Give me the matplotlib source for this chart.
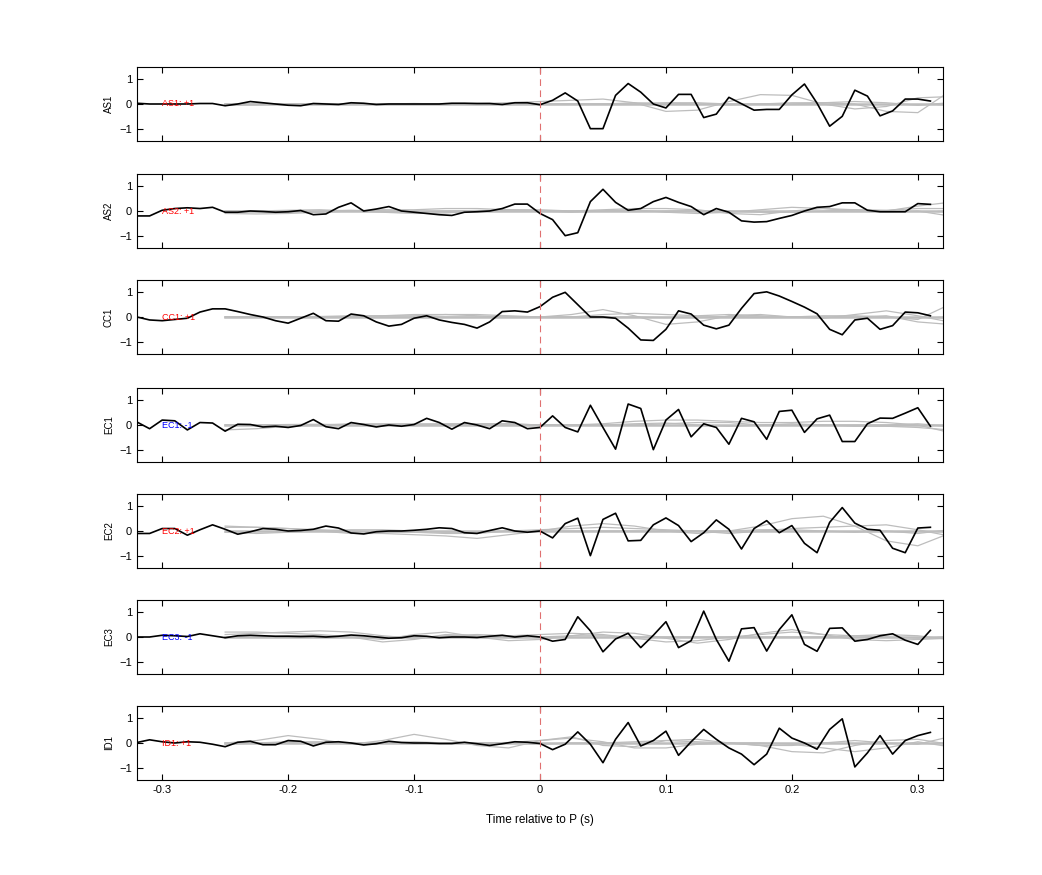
import numpy as np
import matplotlib
matplotlib.use("Agg")
import matplotlib.pyplot as plt

plt.rcParams['font.family'] = ['Liberation Sans', 'DejaVu Sans']

t = np.round(np.arange(-0.32, 0.315, 0.01), 2)
tg = np.round(np.arange(-0.25, 0.33, 0.025), 3)

stations = ["AS1", "AS2", "CC1", "EC1", "EC2", "EC3", "ID1"]
polarity = ["+1", "+1", "+1", "-1", "+1", "-1", "+1"]

AS1 = [0.03,0.0,0.0,0.0,0.0,0.02,0.02,-0.07,0.0,0.1,0.05,0.0,-0.05,-0.07,0.02,0.0,-0.02,0.05,0.03,-0.02,0.0,0.0,0.0,0.0,0.0,0.03,0.03,0.02,0.02,-0.02,0.05,0.05,
       -0.03,0.15,0.45,0.12,-1.0,-1.0,0.35,0.83,0.48,0.0,-0.16,0.39,0.39,-0.55,-0.41,0.27,0.01,-0.25,-0.22,-0.22,0.37,0.81,0.03,-0.9,-0.5,0.56,0.32,-0.48,-0.28,0.2,0.2,0.12]
AS2 = [-0.2,-0.2,0.03,0.1,0.13,0.1,0.15,-0.05,-0.05,0.0,-0.02,-0.05,-0.03,0.02,-0.15,-0.12,0.15,0.33,0.0,0.08,0.18,0.0,-0.05,-0.1,-0.15,-0.18,-0.05,-0.03,0.0,0.1,0.28,0.28,
       -0.1,-0.35,-1.0,-0.88,0.38,0.88,0.35,0.03,0.1,0.38,0.55,0.35,0.18,-0.15,0.1,-0.05,-0.4,-0.45,-0.43,-0.3,-0.18,0.0,0.15,0.18,0.33,0.33,0.03,-0.03,-0.03,-0.03,0.3,0.27]
CC1 = [0.0,-0.12,-0.15,-0.1,-0.05,0.2,0.33,0.33,0.22,0.1,0.0,-0.15,-0.25,-0.05,0.15,-0.15,-0.17,0.12,0.05,-0.2,-0.37,-0.3,-0.05,0.05,-0.12,-0.22,-0.3,-0.45,-0.2,0.22,0.25,0.2,
       0.42,0.8,1.0,0.5,0.0,0.0,-0.05,-0.45,-0.93,-0.95,-0.5,0.25,0.12,-0.33,-0.48,-0.33,0.35,0.95,1.02,0.85,0.63,0.4,0.13,-0.5,-0.72,-0.12,-0.05,-0.5,-0.35,0.2,0.17,0.05]
EC1 = [0.12,-0.15,0.2,0.17,-0.2,0.1,0.08,-0.25,0.03,0.02,-0.08,-0.05,-0.1,-0.02,0.22,-0.07,-0.15,0.1,0.02,-0.08,0.0,-0.05,0.02,0.27,0.1,-0.17,0.1,0.0,-0.15,0.17,0.1,-0.15,
       -0.1,0.37,-0.1,-0.28,0.8,-0.1,-0.98,0.85,0.67,-1.0,0.2,0.63,-0.48,0.05,-0.1,-0.78,0.27,0.13,-0.58,0.55,0.6,-0.3,0.25,0.4,-0.67,-0.67,0.05,0.28,0.27,0.48,0.7,-0.05]
EC2 = [-0.1,-0.1,0.1,0.1,-0.17,0.05,0.25,0.07,-0.13,-0.03,0.1,0.07,0.0,0.02,0.07,0.2,0.12,-0.08,-0.12,-0.03,0.0,0.0,0.03,0.07,0.13,0.1,-0.07,-0.1,0.02,0.13,0.0,-0.05,
       0.0,-0.28,0.3,0.52,-1.0,0.47,0.72,-0.4,-0.38,0.25,0.53,0.22,-0.43,-0.07,0.45,0.07,-0.73,0.1,0.42,-0.07,0.22,-0.5,-0.88,0.35,0.95,0.32,0.07,0.03,-0.7,-0.88,0.12,0.15]
EC3 = [0.0,0.0,0.07,0.05,0.02,0.13,0.05,-0.03,0.05,0.07,0.05,0.03,0.03,0.02,0.03,0.0,0.03,0.08,0.05,0.0,-0.05,-0.03,0.05,0.03,-0.03,0.0,0.0,-0.02,0.03,0.07,0.0,0.05,
       0.0,-0.17,-0.1,0.82,0.25,-0.6,-0.08,0.15,-0.43,0.07,0.62,-0.43,-0.15,1.05,-0.1,-0.98,0.33,0.38,-0.57,0.3,0.9,-0.3,-0.58,0.35,0.37,-0.17,-0.1,0.05,0.13,-0.13,-0.3,0.27]
ID1 = [0.02,0.13,0.05,0.0,0.05,0.03,-0.05,-0.15,0.03,0.07,-0.07,-0.07,0.1,0.07,-0.12,0.03,0.05,0.0,-0.08,-0.03,0.07,0.02,0.0,0.0,-0.02,-0.02,0.03,-0.03,-0.1,-0.03,0.05,0.03,
       -0.02,-0.27,-0.05,0.45,-0.05,-0.8,0.15,0.83,-0.12,0.1,0.48,-0.5,0.05,0.55,0.15,-0.2,-0.45,-0.88,-0.45,0.6,0.2,0.0,-0.25,0.55,0.98,-0.97,-0.4,0.3,-0.45,0.1,0.3,0.43]
black = [AS1, AS2, CC1, EC1, EC2, EC3, ID1]

# gray comparison traces (sampled every 0.025 s from -0.25)
G = {
 "AS1": [[0,0,0,0,0,0,0,0,0.02,0.05,0.1,0.15,0.2,0.05,-0.3,-0.25,0.1,0.38,0.35,0.0,-0.2,-0.1,0.25,0.3],
         [0,-0.02,0,0.02,0,-0.02,0,0.02,0,0,0,0,0,0.05,0.03,0,-0.03,0,0.05,0.05,0,-0.3,-0.35,0.5],
         [-0.05,-0.03,0,0.02,0,0,0.02,0,-0.03,-0.02,0,0,0,0,0.05,0.05,0,0,0,0.05,0.1,0.05,-0.05,0.05]],
 "AS2": [[0,0,0.03,0.05,0,-0.05,-0.1,-0.08,0,0.05,0.05,0,0.05,0.1,0.1,0.05,-0.1,-0.15,0,0.1,0.05,0,0.2,0.35],
         [-0.1,-0.12,-0.1,-0.05,0,0.05,0.05,0.1,0.1,0.05,0,-0.05,0,0.05,-0.05,-0.1,-0.05,0.05,0.15,0.1,0,-0.05,0,-0.2],
         [0,-0.03,-0.05,0,0.03,0,-0.02,0,0.02,0.03,0,0,0,-0.02,0,0.02,0,-0.05,-0.05,0,0.05,0.03,0.1,0.1]],
 "CC1": [[0,0,0,0.02,0.05,0.05,0.1,0.1,0.05,0,0,0.1,0.3,0.05,-0.3,-0.2,0.05,0.1,0,-0.05,0.1,0.25,0.05,-0.2],
         [0,0,0,0,0.02,0.05,0.05,0.1,0.1,0.05,0,0,0.1,0.15,0.1,0.05,0.1,0.05,0,0.05,0.05,0,-0.1,0.5],
         [0,0,0,0,0,0,0,0,0,0,0,0,0,0,-0.02,0,0.02,0,0,0,0,0.05,-0.2,-0.3]],
 "EC1": [[-0.2,-0.15,-0.05,0,0.05,0.05,0.05,0.05,0.05,0.05,0,0,0.05,0.15,0.2,0.2,0.15,0.1,0.1,0.15,0.15,0.1,0,-0.3],
         [0,0,0,0,0,0,0,0,0,0,0,0,0,0,0.05,0.1,0.1,0,0,0,-0.05,-0.05,-0.1,-0.2],
         [0,0,0.02,0.03,0,0,0,0.03,0.05,0.05,0,-0.02,0,0.05,0.08,0,-0.05,0,0.05,0,0,0,0.05,-0.05]],
 "EC2": [[0.15,0.15,0.1,0,-0.1,-0.1,-0.15,-0.2,-0.3,-0.15,0,0.2,0.3,0.2,0,-0.1,0,0.2,0.5,0.6,0.2,-0.4,-0.6,-0.1],
         [-0.05,-0.1,-0.05,0,0.05,0.05,0,-0.05,-0.05,0,0.05,0.1,0.15,0.1,0.05,0,-0.1,0,0.1,0.15,0.2,0.25,0.05,-0.2],
         [0.2,0.15,0.1,0.05,0,-0.05,-0.05,-0.1,-0.1,0,0,0,0,0,0,0,0,0.05,0.05,0,-0.05,0,-0.1,0.05]],
 "EC3": [[0.2,0.2,0.15,0.1,0,-0.1,0.1,0.2,0,-0.15,-0.1,0.05,0.2,0.15,-0.05,-0.25,-0.1,0.15,0.3,0.1,-0.1,-0.15,-0.1,-0.05],
         [0.1,0.15,0.2,0.25,0.2,0.05,-0.05,0.05,0.1,0.05,0.1,0.15,0.1,-0.05,-0.2,-0.15,0,0.1,0.2,0.1,0.05,0.1,0.05,-0.1],
         [0,0,0.05,0.05,0,-0.2,-0.1,0.1,0.05,0,0,0.05,0.05,0,0,0,0,0,0,0,0.05,0,-0.05,0]],
 "ID1": [[0,0.1,0.3,0.15,-0.05,0.1,0.35,0.15,-0.1,-0.2,0.1,0.25,-0.1,-0.15,0.1,0.15,0.0,-0.1,-0.35,-0.4,-0.1,0.1,0.15,-0.05],
         [0,0,0.05,0.05,0,0,0.05,0,0,0,-0.05,0,0,0.05,0.1,0.05,0,-0.1,-0.1,0,0.1,0,-0.05,0.25],
         [-0.05,0,0.02,0,0,0,0,0,0,0.02,0.1,0.2,0.05,-0.2,-0.2,-0.05,0,0,-0.05,-0.2,-0.35,-0.2,0.05,-0.15]],
}

fig = plt.figure(figsize=(10.42, 8.75), dpi=100)
W, H = 1042, 875
tops = [67, 174, 280, 388, 494, 600, 706]
ph = 74
for i, st in enumerate(stations):
    ax = fig.add_axes([137 / W, 1 - (tops[i] + ph) / H, 806 / W, ph / H])
    for g in G[st]:
        ax.plot(tg, g, color='#bdbdbd', lw=0.9)
    ax.plot(tg, np.zeros_like(tg), color='#bdbdbd', lw=1.8)
    ax.plot(t, black[i], color='black', lw=1.2)
    ax.axvline(0, color='#e07070', lw=0.8, ls=(0, (6, 4)))
    col = 'red' if polarity[i] == '+1' else 'blue'
    ax.text(-0.3, 0, f"{st}: {polarity[i]}", color=col, fontsize=6.5, va='center', ha='left')
    ax.set_xlim(-0.32, 0.32)
    ax.set_ylim(-1.5, 1.5)
    ax.set_yticks([-1, 0, 1])
    ax.set_xticks([-0.3, -0.2, -0.1, 0, 0.1, 0.2, 0.3])
    ax.tick_params(direction='in', top=True, right=True, labelsize=8, length=4)
    ax.set_ylabel(st, fontsize=7)
    if i < 6:
        ax.set_xticklabels([])
    else:
        ax.set_xticklabels(['-0.3', '-0.2', '-0.1', '0', '0.1', '0.2', '0.3'])
        ax.set_xlabel("Time relative to P (s)", fontsize=8.5, labelpad=14)
    for s in ax.spines.values():
        s.set_linewidth(0.8)

fig.savefig("out.png", dpi=100)
